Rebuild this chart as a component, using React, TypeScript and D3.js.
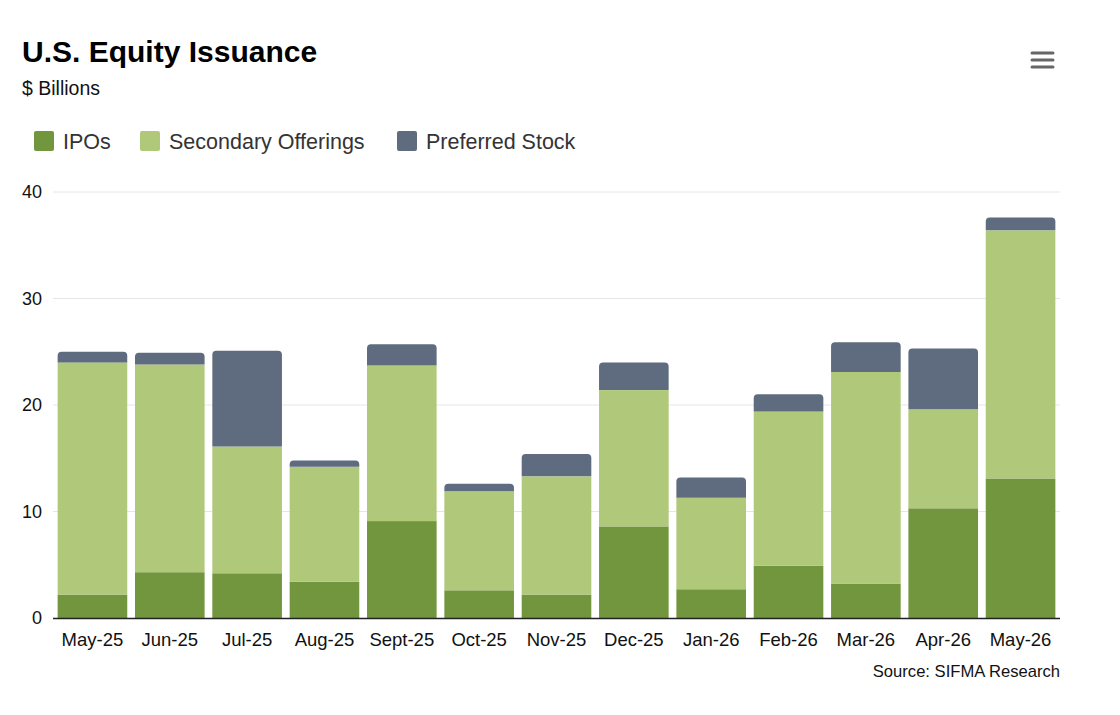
import { useEffect, useRef } from 'react';
import * as d3 from 'd3';

// U.S. Equity Issuance, $ billions
const months = ['May-25', 'Jun-25', 'Jul-25', 'Aug-25', 'Sept-25', 'Oct-25', 'Nov-25', 'Dec-25', 'Jan-26', 'Feb-26', 'Mar-26', 'Apr-26', 'May-26'];
const ipos = [2.2, 4.3, 4.2, 3.4, 9.1, 2.6, 2.2, 8.6, 2.7, 4.9, 3.2, 10.3, 13.1];
const secondary = [21.8, 19.5, 11.9, 10.8, 14.6, 9.3, 11.1, 12.8, 8.6, 14.5, 19.9, 9.3, 23.3];
const preferred = [1.0, 1.1, 9.0, 0.6, 2.0, 0.7, 2.1, 2.6, 1.9, 1.6, 2.8, 5.7, 1.2];
const seriesNames = ['IPOs', 'Secondary Offerings', 'Preferred Stock'];
const seriesColors = ['#72963d', '#afc879', '#5f6b7e'];
const yTicks = [0, 10, 20, 30, 40];

const W = 1120, H = 715;
const FONT = '"Liberation Sans", Arial, Helvetica, sans-serif';

export default function App() {
  const svgRef = useRef<SVGSVGElement>(null);

  useEffect(() => {
    if (!svgRef.current) return;
    const svg = d3.select(svgRef.current);
    svg.selectAll('*').remove();
    svg.attr('font-family', FONT);

    const left = 53, right = 1060, top = 192, bottom = 618;

    const x = d3.scaleBand<string>().domain(months).range([left, right]).paddingInner(0.1).paddingOuter(0.06);
    const y = d3.scaleLinear().domain([0, 40]).range([bottom, top]);

    // title block
    svg.append('text').attr('x', 22).attr('y', 62).attr('font-size', 30).attr('font-weight', 'bold')
      .attr('fill', '#000').text('U.S. Equity Issuance');
    svg.append('text').attr('x', 22).attr('y', 95).attr('font-size', 19.5).attr('fill', '#111').text('$ Billions');

    // menu icon
    [53, 60, 67].forEach(yy => {
      svg.append('line').attr('x1', 1032).attr('x2', 1053).attr('y1', yy).attr('y2', yy)
        .attr('stroke', '#666').attr('stroke-width', 3).attr('stroke-linecap', 'round');
    });

    // legend
    const legendX = [34, 140, 397];
    seriesNames.forEach((name, i) => {
      svg.append('rect').attr('x', legendX[i]).attr('y', 131).attr('width', 20).attr('height', 20).attr('rx', 2)
        .attr('fill', seriesColors[i]);
      svg.append('text').attr('x', legendX[i] + 29).attr('y', 149).attr('font-size', 21.5).attr('fill', '#333').text(name);
    });

    // grid
    svg.append('g').selectAll('line').data(yTicks.filter(t => t > 0)).enter().append('line')
      .attr('x1', left).attr('x2', right).attr('y1', d => y(d)).attr('y2', d => y(d))
      .attr('stroke', '#e6e6e6').attr('stroke-width', 1);

    // y labels
    svg.append('g').selectAll('text').data(yTicks).enter().append('text')
      .attr('x', 42).attr('y', d => y(d) + 6).attr('text-anchor', 'end')
      .attr('font-size', 18).attr('fill', '#111').text(d => d);

    // stacked bars
    const rows = months.map((m, i) => ({ month: m, IPOs: ipos[i], 'Secondary Offerings': secondary[i], 'Preferred Stock': preferred[i] }));
    const stack = d3.stack<any>().keys(seriesNames)(rows);
    const bw = x.bandwidth();
    stack.forEach((layer, li) => {
      const g = svg.append('g');
      layer.forEach((d: any) => {
        const x0 = x(d.data.month)!;
        const y0 = y(d[0]), y1 = y(d[1]);
        if (li === stack.length - 1) {
          const r = 4;
          const p = d3.path();
          p.moveTo(x0, y0);
          p.lineTo(x0, y1 + r);
          p.quadraticCurveTo(x0, y1, x0 + r, y1);
          p.lineTo(x0 + bw - r, y1);
          p.quadraticCurveTo(x0 + bw, y1, x0 + bw, y1 + r);
          p.lineTo(x0 + bw, y0);
          p.closePath();
          g.append('path').attr('d', p.toString()).attr('fill', seriesColors[li]);
        } else {
          g.append('rect').attr('x', x0).attr('y', y1).attr('width', bw).attr('height', y0 - y1)
            .attr('fill', seriesColors[li]);
        }
      });
    });

    // x axis line
    svg.append('line').attr('x1', left).attr('x2', right).attr('y1', bottom + 0.5).attr('y2', bottom + 0.5)
      .attr('stroke', '#222').attr('stroke-width', 1.5);

    // x labels
    svg.append('g').selectAll('text').data(months).enter().append('text')
      .attr('x', d => x(d)! + bw / 2).attr('y', 646).attr('text-anchor', 'middle')
      .attr('font-size', 18.5).attr('fill', '#111').text(d => d);

    // source
    svg.append('text').attr('x', 1060).attr('y', 677).attr('text-anchor', 'end')
      .attr('font-size', 16.6).attr('fill', '#111').text('Source: SIFMA Research');
  }, []);

  return (
    <svg ref={svgRef} width={W} height={H} viewBox={`0 0 ${W} ${H}`}
      style={{ position: 'absolute', left: 0, top: 0, background: '#fff' }} />
  );
}
